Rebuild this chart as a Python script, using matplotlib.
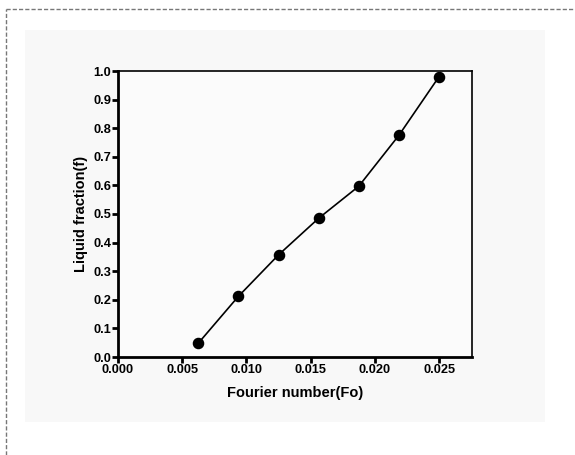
import matplotlib
matplotlib.use("Agg")
import matplotlib.pyplot as plt
from matplotlib.patches import Rectangle
from matplotlib.lines import Line2D

# data
fourier = [0.00625, 0.009375, 0.0125, 0.015625, 0.01875, 0.021875, 0.025]
liquid = [0.048, 0.212, 0.357, 0.485, 0.597, 0.775, 0.980]
xticks = [0.000, 0.005, 0.010, 0.015, 0.020, 0.025]
yticks = [0.0, 0.1, 0.2, 0.3, 0.4, 0.5, 0.6, 0.7, 0.8, 0.9, 1.0]

plt.rcParams['font.family'] = ['Liberation Sans', 'DejaVu Sans']

W, H = 575, 455
fig = plt.figure(figsize=(W / 100, H / 100), dpi=100)

# light panel behind the chart and dashed frame (top/left)
fig.patches.append(Rectangle((25 / W, 1 - 422 / H), 520 / W, 392 / H,
                             transform=fig.transFigure, facecolor='#f8f8f8',
                             edgecolor='none', zorder=-5))
fig.lines.append(Line2D([6 / W, 1], [1 - 9 / H, 1 - 9 / H], transform=fig.transFigure,
                        color='#777777', lw=1, ls=(0, (3, 1.5))))
fig.lines.append(Line2D([6 / W, 6 / W], [0, 1 - 9 / H], transform=fig.transFigure,
                        color='#777777', lw=1, ls=(0, (3, 1.5))))

ax = fig.add_axes([118 / W, 1 - 357 / H, (472 - 118) / W, (357 - 71) / H])
ax.set_zorder(5)
ax.set_facecolor('#fbfbfb')
ax.plot(fourier, liquid, color='black', lw=1.2, marker='o', ms=7.3, zorder=3)

ax.set_xlim(0, 0.02757)
ax.set_ylim(0, 1.0)
ax.set_xticks(xticks)
ax.set_xticklabels([f'{v:.3f}' for v in xticks], fontsize=9.2, fontweight='bold')
ax.set_yticks(yticks)
ax.set_yticklabels([f'{v:.1f}' for v in yticks], fontsize=9.2, fontweight='bold')

for s in ['left', 'bottom']:
    ax.spines[s].set_linewidth(2)
for s in ['top', 'right']:
    ax.spines[s].set_linewidth(1.2)
ax.tick_params(direction='out', width=2, length=4, pad=1)
ax.tick_params(top=False, right=False)

ax.set_xlabel('Fourier number(Fo)', fontsize=10.5, fontweight='bold', labelpad=7)
ax.set_ylabel('Liquid fraction(f)', fontsize=10.5, fontweight='bold', labelpad=4)

fig.savefig('out.png', dpi=100)
